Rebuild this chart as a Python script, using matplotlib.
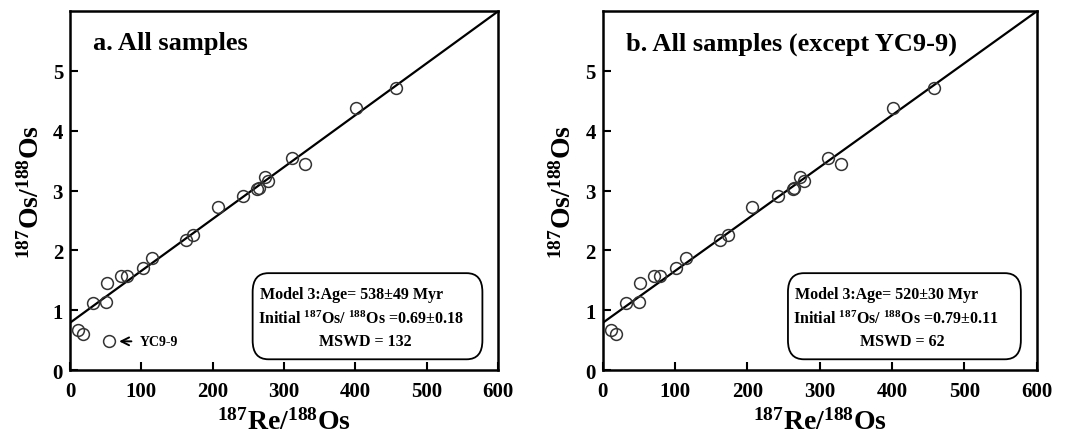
import matplotlib
matplotlib.use('Agg')
import matplotlib.pyplot as plt
from matplotlib.patches import FancyBboxPatch
import numpy as np

plt.rcParams['font.family'] = ['Liberation Serif', 'DejaVu Serif']
plt.rcParams['font.weight'] = 'bold'
plt.rcParams['mathtext.fontset'] = 'custom'
plt.rcParams['mathtext.rm'] = 'Liberation Serif'
plt.rcParams['mathtext.bf'] = 'Liberation Serif:bold'

# 187Re/188Os vs 187Os/188Os
re_os = [10.7, 18.7, 32, 50.4, 51.8, 71.4, 79.4, 101.8, 114.8, 162, 172.7,
         206.8, 241.8, 262.4, 265, 273, 277.8, 311.8, 330, 401, 457.5]
os_os = [0.67, 0.61, 1.12, 1.14, 1.45, 1.58, 1.58, 1.71, 1.87, 2.18, 2.26,
         2.73, 2.91, 3.03, 3.05, 3.23, 3.16, 3.55, 3.44, 4.38, 4.71]
outlier_x = [54.6]
outlier_y = [0.48]

# fitted isochron (as drawn)
fit_a = (0.79, 0.00868)
fit_b = (0.79, 0.00868)

titles = ['a. All samples', 'b. All samples (except YC9-9)']
ages = ['538\u00b149', '520\u00b130']
initials = ['0.69\u00b10.18', '0.79\u00b10.11']
mswd = ['132', '62']

fig = plt.figure(figsize=(10.65, 4.35), dpi=100)
ax1 = fig.add_axes([0.0657, 0.147, 0.402, 0.825])
ax2 = fig.add_axes([0.566, 0.147, 0.4075, 0.825])

sup = lambda n: r'$\mathrm{^{%s}}$' % n

for i, (ax, fit) in enumerate(zip([ax1, ax2], [fit_a, fit_b])):
    xx = np.array([0, 600])
    ax.plot(xx, fit[0] + fit[1] * xx, color='k', lw=1.6, zorder=2)
    ax.plot(re_os, os_os, 'o', mfc='none', mec='#333333', mew=1.1, ms=8.5, zorder=3)
    if i == 0:
        ax.plot(outlier_x, outlier_y, 'o', mfc='none', mec='#333333', mew=1.1, ms=8.5, zorder=3)
        ax.annotate('', xy=(65, 0.48), xytext=(90, 0.48),
                    arrowprops=dict(arrowstyle='->', color='k', lw=1.4, mutation_scale=14))
        ax.text(98, 0.48, 'YC9-9', fontsize=10, va='center', ha='left')
    ax.set_xlim(0, 600)
    ax.set_ylim(0, 6)
    ax.set_xticks(range(0, 601, 100))
    ax.set_yticks(range(0, 6))
    ax.tick_params(direction='in', length=6, width=1.5, labelsize=15,
                   top=False, right=False)
    ax.tick_params(axis='x', pad=8)
    ax.tick_params(axis='y', pad=5)
    for lab in ax.get_xticklabels() + ax.get_yticklabels():
        lab.set_fontweight('bold')
    for s in ax.spines.values():
        s.set_linewidth(1.8)
    ax.set_xlabel(sup(187) + 'Re/' + sup(188) + 'Os', fontsize=20, fontweight='bold', labelpad=5)
    ax.set_ylabel(sup(187) + 'Os/' + sup(188) + 'Os', fontsize=20, fontweight='bold', labelpad=6)
    ax.text(32, 5.47, titles[i], fontsize=19, fontweight='bold', va='center', ha='left')

    box = FancyBboxPatch((256, 0.18), 322, 1.44, boxstyle='round,pad=0,rounding_size=22',
                         mutation_aspect=1 / 70, fc='white', ec='k', lw=1.3, zorder=4)
    ax.add_patch(box)
    ax.text(266, 1.27, 'Model 3:Age= ' + ages[i] + ' Myr', fontsize=11.5, fontweight='bold',
            va='center', ha='left', zorder=5)
    ax.text(263, 0.87, 'Initial ' + sup(187) + 'Os/ ' + sup(188) + 'Os =' + initials[i],
            fontsize=11.5, fontweight='bold', va='center', ha='left', zorder=5)
    ax.text(414, 0.48, 'MSWD = ' + mswd[i], fontsize=11.5, fontweight='bold',
            va='center', ha='center', zorder=5)

fig.savefig('out.png', dpi=100)
